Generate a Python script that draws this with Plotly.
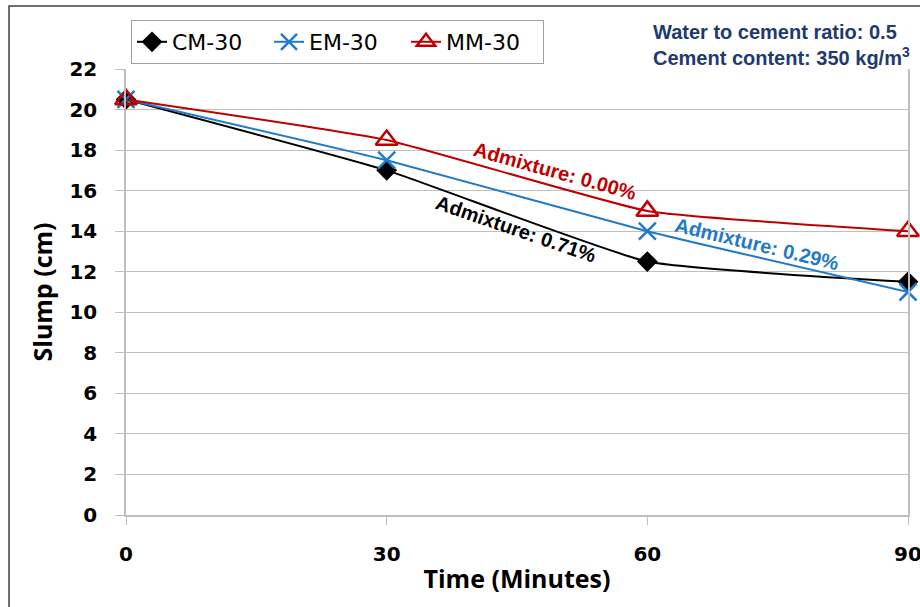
import plotly.graph_objects as go

time_min = [0, 30, 60, 90]
cm30 = [20.5, 17.0, 12.5, 11.5]
em30 = [20.5, 17.5, 14.0, 11.0]
mm30 = [20.5, 18.5, 15.0, 14.0]
y_ticks = list(range(0, 23, 2))
x_ticks = [0, 30, 60, 90]

FONT = "Open Sans"
TICKFONT = "DejaVu Sans"
L, T, PW, PH = 126, 69, 782, 446

fig = go.Figure()

fig.add_trace(go.Scatter(
    x=time_min, y=cm30, name="CM-30", mode="lines+markers",
    line=dict(color="black", width=2, shape="spline", smoothing=0.4),
    marker=dict(symbol="diamond", size=16, color="black"),
    cliponaxis=False))
fig.add_trace(go.Scatter(
    x=time_min, y=em30, name="EM-30", mode="lines+markers",
    line=dict(color="#1F7BC8", width=2, shape="spline", smoothing=0.4),
    marker=dict(symbol="x-thin-open", size=17, line=dict(color="#1F7BC8", width=2.5)),
    cliponaxis=False))
fig.add_trace(go.Scatter(
    x=time_min, y=mm30, name="MM-30", mode="lines+markers",
    line=dict(color="#C00000", width=2, shape="spline", smoothing=0.4),
    marker=dict(symbol="triangle-up-open", size=19, line=dict(color="#C00000", width=2.5)),
    cliponaxis=False))

fig.update_layout(
    width=920, height=607,
    margin=dict(l=L, r=920 - L - PW, t=T, b=607 - T - PH, autoexpand=False),
    paper_bgcolor="white", plot_bgcolor="white",
    font=dict(family=FONT, color="black"),
    showlegend=True,
    legend=dict(orientation="h", x=(131 - L) / PW, y=(515 - 20) / PH, xanchor="left", yanchor="top",
                bordercolor="#A0A0A0", borderwidth=1, bgcolor="white",
                font=dict(family=TICKFONT, size=22, color="black"),
                itemwidth=30, tracegroupgap=0, entrywidth=92, entrywidthmode="pixels"),
    xaxis=dict(range=[0, 90], tickvals=x_ticks, showgrid=False, zeroline=False,
               showline=True, linecolor="#BFBFBF", linewidth=1.5, automargin=False,
               ticks="outside", ticklen=8, tickcolor="#BFBFBF", ticklabelstandoff=12,
               ticklabeloverflow="allow",
               tickfont=dict(family=TICKFONT, size=20, color="black", weight="bold"),
               title=dict(text="Time (Minutes)", font=dict(family=FONT, size=25, weight="bold"), standoff=6)),
    yaxis=dict(range=[0, 22], tickvals=y_ticks, showgrid=True, gridcolor="#BFBFBF", gridwidth=1,
               zeroline=False, showline=True, linecolor="#BFBFBF", linewidth=1.5, mirror=True,
               automargin=False, ticklabeloverflow="allow",
               ticks="outside", ticklen=9, tickcolor="#BFBFBF", ticklabelstandoff=14,
               tickfont=dict(family=TICKFONT, size=20, color="black", weight="bold"),
               title=dict(text="Slump (cm)", font=dict(family=FONT, size=25, weight="bold"), standoff=10)),
)

# outer chart border (partial, as in cropped image)
fig.add_shape(type="rect", xref="paper", yref="paper",
              x0=(9 - L) / PW, x1=1.2, y0=-0.3, y1=(515 - 6) / PH,
              line=dict(color="#404040", width=1.5), layer="below")

navy = "#1F3A6E"
fig.add_annotation(xref="paper", yref="paper", x=(651 - L) / PW, y=(515 - 32) / PH,
                   xanchor="left", yanchor="middle", showarrow=False,
                   text="<b>Water to cement ratio: 0.5</b>",
                   font=dict(family="Liberation Sans", size=20, color=navy))
fig.add_annotation(xref="paper", yref="paper", x=(651 - L) / PW, y=(515 - 56) / PH,
                   xanchor="left", yanchor="middle", showarrow=False,
                   text="<b>Cement content: 350 kg/m<sup>3</sup></b>",
                   font=dict(family="Liberation Sans", size=20, color=navy))

fig.add_annotation(x=(555 - L) / PW * 90, y=(515 - 171) / PH * 22, showarrow=False,
                   text="<b>Admixture: 0.00%</b>", textangle=15.5,
                   font=dict(family="Liberation Sans", size=20, color="#C00000"))
fig.add_annotation(x=(516 - L) / PW * 90, y=(515 - 229) / PH * 22, showarrow=False,
                   text="<b>Admixture: 0.71%</b>", textangle=19,
                   font=dict(family="Liberation Sans", size=20, color="black"))
fig.add_annotation(x=(757 - L) / PW * 90, y=(515 - 244) / PH * 22, showarrow=False,
                   text="<b>Admixture: 0.29%</b>", textangle=13.5,
                   font=dict(family="Liberation Sans", size=20, color="#1F7BC8"))

fig.write_html("out.html", config={"displayModeBar": False},
               post_script="document.body.style.margin='0';")
